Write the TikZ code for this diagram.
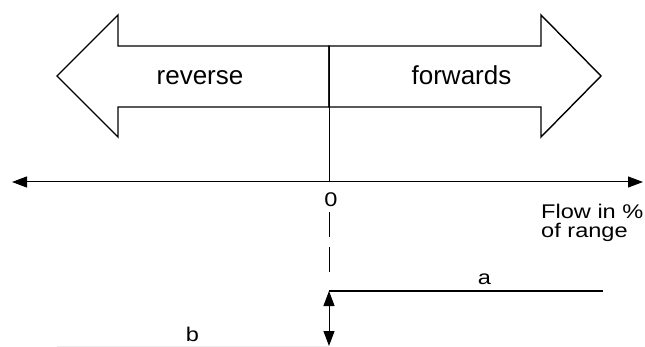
\documentclass[tikz,border=0pt]{standalone}
\usepackage{fontspec}
\setmainfont{Liberation Sans}
\usepackage{tikz}
\usetikzlibrary{arrows.meta, positioning}

\begin{document}
\begin{tikzpicture}[x=1pt, y=-1pt,
  bigarrow/.style={line width=1.4pt, line join=miter},
  axisline/.style={line width=1pt, {Triangle[length=15pt,width=11pt]}-{Triangle[length=15pt,width=11pt]}},
  dimline/.style={line width=1pt, {Triangle[length=15pt,width=11pt]}-{Triangle[length=15pt,width=11pt]}},
  stepline/.style={line width=2.4pt},
  bigtext/.style={inner sep=0pt, font=\fontsize{26}{30}\selectfont},
  smalltext/.style={inner sep=0pt, xscale=1.19, transform shape, font=\fontsize{19.8}{18}\selectfont}]
  \useasboundingbox (0,0) rectangle (645,347);

  % Koordinaten
  \coordinate (top)    at (329,46);
  \coordinate (origin) at (329,182);
  \coordinate (axl)    at (12,182);
  \coordinate (axr)    at (643,182);
  \coordinate (zeropos) at (331,200);
  \coordinate (flowpos) at (541,219);
  \coordinate (rangepos) at (541,237.5);
  \coordinate (apos)   at (484.5,284);
  \coordinate (bpos)   at (192.5,341);
  \coordinate (dashs)  at (329,212);
  \coordinate (dashe)  at (329,272);
  \coordinate (corner) at (329,291);
  \coordinate (stepe)  at (603,291);
  \coordinate (bottom) at (329,346);
  \coordinate (faint)  at (57,346);

  % Pfeile oben
  \draw[bigarrow] (top) -- (118,46) -- (118,15) -- (57,76) -- (118,137)
    -- (118,107) -- (329,107) -- cycle;
  \draw[bigarrow] (top) -- (541,46) -- (541,15) -- (601,76) -- (541,137)
    -- (541,107) -- (329,107) -- cycle;
  \node[bigtext, anchor=base] (rev) at (200,85) {reverse};
  \node[bigtext, anchor=base] (fwd) at (461.5,85) {forwards};

  % Achse
  \draw[line width=1pt] (top) -- (origin);
  \draw[axisline] (axl) -- (axr);
  \node[smalltext] (zero) at (zeropos) {0};
  \node[smalltext, anchor=base west] (flow) at (flowpos) {Flow in \%};
  \node[smalltext, anchor=base west] (range) at (rangepos) {of range};

  % Sprung
  \draw[line width=1pt, dash pattern=on 25pt off 10pt] (dashs) -- (dashe);
  \draw[stepline] (corner) -- (stepe);
  \node[smalltext, anchor=base] (a) at (apos) {a};
  \draw[gray!15, line width=1pt] (faint) -- (bottom);
  \draw[dimline] (corner) -- (bottom);
  \node[smalltext, anchor=base] (b) at (bpos) {b};
\end{tikzpicture}
\end{document}
